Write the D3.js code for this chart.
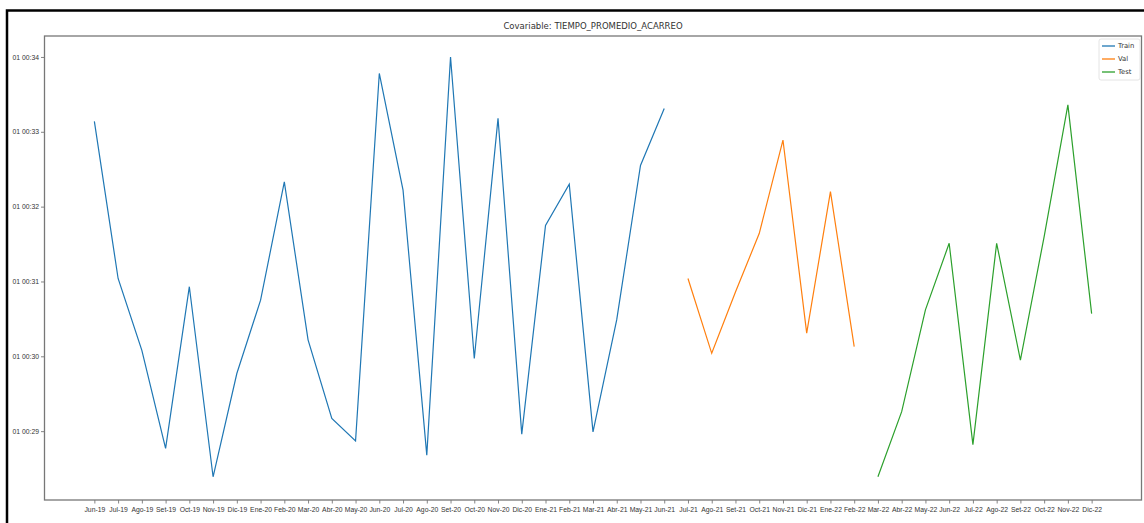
<!DOCTYPE html>
<html>
<head>
<meta charset="utf-8">
<script src="https://cdn.jsdelivr.net/npm/d3@7"></script>
<style>
  body { margin: 0; background: #fff; }
  svg { display: block; font-family: "DejaVu Sans", sans-serif; }
</style>
</head>
<body>
<svg id="chart" width="1144" height="523"></svg>
<script>
// month labels, one per observation
const months = ["Jun-19","Jul-19","Ago-19","Set-19","Oct-19","Nov-19","Dic-19","Ene-20","Feb-20","Mar-20",
  "Abr-20","May-20","Jun-20","Jul-20","Ago-20","Set-20","Oct-20","Nov-20","Dic-20","Ene-21","Feb-21",
  "Mar-21","Abr-21","May-21","Jun-21","Jul-21","Ago-21","Set-21","Oct-21","Nov-21","Dic-21","Ene-22",
  "Feb-22","Mar-22","Abr-22","May-22","Jun-22","Jul-22","Ago-22","Set-22","Oct-22","Nov-22","Dic-22"];

// values in minutes past 01 00:00
const trainMonths = months.slice(0, 25);
const trainValues = [33.14, 31.04, 30.08, 28.77, 30.93, 28.39, 29.77, 30.75, 32.33, 30.22,
  29.17, 28.87, 33.78, 32.22, 28.68, 34.0, 29.97, 33.18, 28.96, 31.75, 32.30,
  28.99, 30.49, 32.55, 33.31];
const valMonths = months.slice(25, 33);
const valValues = [31.04, 30.04, 30.86, 31.64, 32.89, 30.31, 32.20, 30.13];
const testMonths = months.slice(33);
const testValues = [28.39, 29.26, 30.62, 31.51, 28.82, 31.51, 29.95, 31.60, 33.36, 30.57];

const yTicks = [29, 30, 31, 32, 33, 34];

const series = [
  { name: "Train", color: "#1f77b4", months: trainMonths, values: trainValues },
  { name: "Val", color: "#ff7f0e", months: valMonths, values: valValues },
  { name: "Test", color: "#2ca02c", months: testMonths, values: testValues }
];

const svg = d3.select("#chart");
const plot = { left: 44.5, top: 36, right: 1141.5, bottom: 500 };

// screenshot frame
svg.append("path")
  .attr("d", `M7,523V10.5H1144`)
  .attr("fill", "none")
  .attr("stroke", "#000")
  .attr("stroke-width", 2.5);

const x = d3.scalePoint()
  .domain(months)
  .range([plot.left, plot.right])
  .padding(2.1);

const y = d3.scaleLinear()
  .domain([28.08, 34.28])
  .range([plot.bottom, plot.top]);

// axes
const xAxis = svg.append("g")
  .attr("transform", `translate(0,${plot.bottom})`)
  .call(d3.axisBottom(x).tickSize(3.5).tickPadding(2));
const yAxis = svg.append("g")
  .attr("transform", `translate(${plot.left},0)`)
  .call(d3.axisLeft(y).tickValues(yTicks).tickSize(3.5).tickPadding(2)
    .tickFormat(d => "01 00:" + d3.format("02d")(d)));

[xAxis, yAxis].forEach(g => {
  g.select(".domain").remove();
  g.selectAll(".tick line").attr("stroke", "#666").attr("stroke-width", 0.8);
  g.selectAll(".tick text").attr("fill", "#333").style("font-size", "6.8px");
});
xAxis.selectAll(".tick text").attr("dy", "0.9em");

// plot frame
svg.append("rect")
  .attr("x", plot.left).attr("y", plot.top)
  .attr("width", plot.right - plot.left).attr("height", plot.bottom - plot.top)
  .attr("fill", "none")
  .attr("stroke", "#777")
  .attr("stroke-width", 1.3);

// title
svg.append("text")
  .attr("x", (plot.left + plot.right) / 2)
  .attr("y", 29)
  .attr("text-anchor", "middle")
  .attr("fill", "#333")
  .style("font-size", "8.5px")
  .text("Covariable: TIEMPO_PROMEDIO_ACARREO");

// lines
const line = d3.line()
  .x(d => x(d[0]))
  .y(d => y(d[1]));

svg.selectAll(".series")
  .data(series)
  .enter()
  .append("path")
  .attr("class", "series")
  .attr("d", s => line(d3.zip(s.months, s.values)))
  .attr("fill", "none")
  .attr("stroke", s => s.color)
  .attr("stroke-width", 1.2);

// legend
const legend = svg.append("g").attr("transform", "translate(1099,39)");
legend.append("rect")
  .attr("width", 41).attr("height", 41).attr("rx", 2)
  .attr("fill", "#fff").attr("stroke", "#ddd").attr("stroke-width", 0.8);
const items = legend.selectAll(".item")
  .data(series)
  .enter()
  .append("g")
  .attr("transform", (d, i) => `translate(0,${7 + i * 13})`);
items.append("line")
  .attr("x1", 3).attr("x2", 16)
  .attr("stroke", d => d.color).attr("stroke-width", 1.3);
items.append("text")
  .attr("x", 19).attr("dy", "0.35em")
  .attr("fill", "#333")
  .style("font-size", "6.8px")
  .text(d => d.name);
</script>
</body>
</html>
